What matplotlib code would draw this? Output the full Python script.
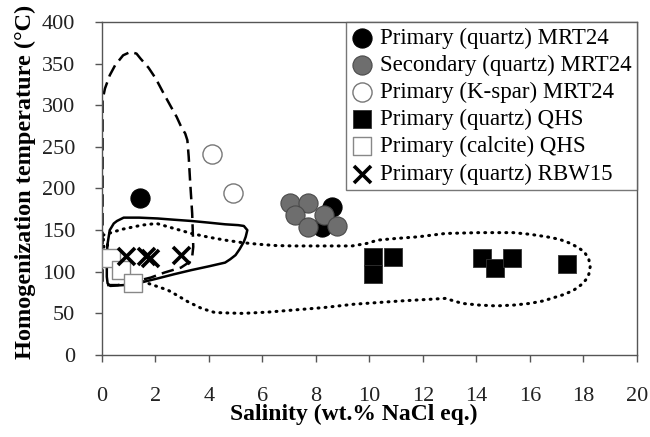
import matplotlib
matplotlib.use("Agg")
import matplotlib.pyplot as plt

plt.rcParams['font.family'] = ['Liberation Serif', 'DejaVu Serif']

# ---- data ----
pq_mrt_x = [1.42, 8.6, 8.23]
pq_mrt_y = [188, 178, 154]
sec_mrt_x = [7.04, 7.72, 7.21, 8.32, 7.72, 8.79]
sec_mrt_y = [183, 182, 168, 168, 154, 155]
kspar_x = [4.11, 4.91]
kspar_y = [241, 195]
pq_qhs_x = [10.12, 10.9, 10.12, 14.19, 14.7, 15.33, 17.4]
pq_qhs_y = [118, 118, 97, 116, 104, 116, 109]
calc_x = [0.35, 0.72, 1.15]
calc_y = [116, 102, 86]
rbw_x = [0.92, 1.64, 1.82, 2.96]
rbw_y = [119, 119, 116, 120]

dash_x = [0.03, 0.03, 0.03, 0.12, 0.3, 0.5, 0.8, 1.07, 1.3, 1.45, 1.75, 2.02, 2.3, 2.59, 2.8,
          2.97, 3.12, 3.2, 3.25, 3.3, 3.38, 3.42, 3.38, 3.29, 2.96, 2.34, 1.83, 1.2, 0.6, 0.2, 0.03]
dash_y = [88, 200, 306, 320, 336, 348, 360, 364, 362, 356, 345, 332, 315, 298, 286,
          274, 266, 258, 238, 210, 170, 130, 118, 112, 105, 99, 93, 88, 84, 84, 88]

solid_x = [0.21, 0.3, 0.45, 0.57, 0.82, 1.4, 2.09, 2.7, 3.35, 4.0, 4.61, 5.1, 5.31, 5.44, 5.38,
           5.31, 5.15, 5.0, 4.8, 4.61, 4.0, 3.35, 2.7, 2.09, 1.58, 1.2, 0.82, 0.32, 0.22, 0.19,
           0.19, 0.21]
solid_y = [132, 150, 158, 161, 165, 165, 164, 162.5, 161, 159, 157, 156, 155, 150, 142,
           136, 127, 120, 115, 111, 106.5, 102, 97, 92, 88, 86, 84, 83, 86, 94,
           110, 132]

dot_x = [0.05, 0.76, 1.5, 2.05, 2.7, 3.35, 4.0, 4.61, 5.25, 5.87, 6.5, 7.15, 8.3, 9.35, 9.9,
         10.31, 11.0, 11.83, 12.84, 14.1, 15.37, 16.0, 16.63, 17.1, 17.52, 17.8, 18.03, 18.2,
         18.25, 18.2, 18.08, 17.9, 17.64, 17.3, 17.0, 16.5, 16.0, 15.4, 14.74, 14.1, 13.47,
         12.84, 11.2, 9.42, 8.3, 7.15, 6.2, 5.25, 4.23, 3.73, 3.22, 2.8, 2.47, 1.83, 1.2, 0.5,
         0.1, 0.05]
dot_y = [144, 151, 156, 158, 152, 146, 141.5, 138, 135, 133, 131.5, 131, 131, 131, 134,
         138, 140, 142, 146, 147, 147, 145, 142, 139, 134, 129, 124, 115,
         106, 97, 90, 84, 78, 73, 70, 65, 62, 60, 59, 60, 62,
         68, 65, 61, 57, 54, 51.5, 50, 51, 56, 64, 72, 78, 85, 92, 104,
         120, 144]

xticks = [0, 2, 4, 6, 8, 10, 12, 14, 16, 18, 20]
yticks = [0, 50, 100, 150, 200, 250, 300, 350, 400]

labels = ["Primary (quartz) MRT24", "Secondary (quartz) MRT24", "Primary (K-spar) MRT24",
          "Primary (quartz) QHS", "Primary (calcite) QHS", "Primary (quartz) RBW15"]

# ---- figure ----
fig = plt.figure(figsize=(6.5, 4.37), dpi=100)
ax = fig.add_axes([0.1565, 0.1876, 0.98 - 0.1565, 0.9497 - 0.1876])

ax.plot(dot_x, dot_y, color='black', lw=2.2, ls=(0, (0.3, 2.0)), dash_capstyle='round',
        solid_capstyle='round', zorder=1)
ax.plot(dash_x, dash_y, color='black', lw=1.8, ls=(0, (5, 2.5)), zorder=1)
ax.plot(solid_x, solid_y, color='black', lw=1.8, zorder=1)

h1 = ax.scatter(pq_mrt_x, pq_mrt_y, s=190, c='black', edgecolors='black', linewidths=0.8, zorder=3)
h2 = ax.scatter(sec_mrt_x, sec_mrt_y, s=190, c='#6e6e6e', edgecolors='#4a4a4a', linewidths=0.8, zorder=4)
h3 = ax.scatter(kspar_x, kspar_y, s=190, c='white', edgecolors='#777777', linewidths=1.0, zorder=3)
h4 = ax.scatter(pq_qhs_x, pq_qhs_y, s=175, marker='s', c='black', edgecolors='#333333', linewidths=0.6, zorder=3)
h5 = ax.scatter(calc_x, calc_y, s=175, marker='s', c='white', edgecolors='#888888', linewidths=1.0, zorder=5)
h6 = ax.scatter(rbw_x, rbw_y, s=150, marker='x', c='black', linewidths=2.6, zorder=6)

ax.set_xlim(0, 20)
ax.set_ylim(0, 400)
ax.set_xticks(xticks)
ax.set_yticks(yticks)
ax.tick_params(direction='out', length=5, width=1, color='#555555', labelsize=16,
               labelcolor='#222222')
ax.tick_params(axis='x', pad=18)
ax.tick_params(axis='y', pad=14)
for sp in ax.spines.values():
    sp.set_color('#555555')
    sp.set_linewidth(1.0)

ax.set_xlabel("Salinity (wt.% NaCl eq.)", fontsize=17, fontweight='bold')
ax.set_ylabel("Homogenization temperature (°C)", fontsize=17.5, fontweight='bold')
ax.xaxis.set_label_coords(0.47, -0.148)
ax.yaxis.set_label_coords(-0.123, 0.52)

leg = ax.legend([h1, h2, h3, h4, h5, h6], labels, loc='upper right', fontsize=16.5,
                frameon=True, fancybox=False, borderaxespad=0, borderpad=0.25,
                handlelength=0.9, handletextpad=0.3, labelspacing=0.26, markerscale=1.0)
leg.get_frame().set_edgecolor('#555555')
leg.get_frame().set_linewidth(1.0)

fig.savefig("out.png", dpi=100)
